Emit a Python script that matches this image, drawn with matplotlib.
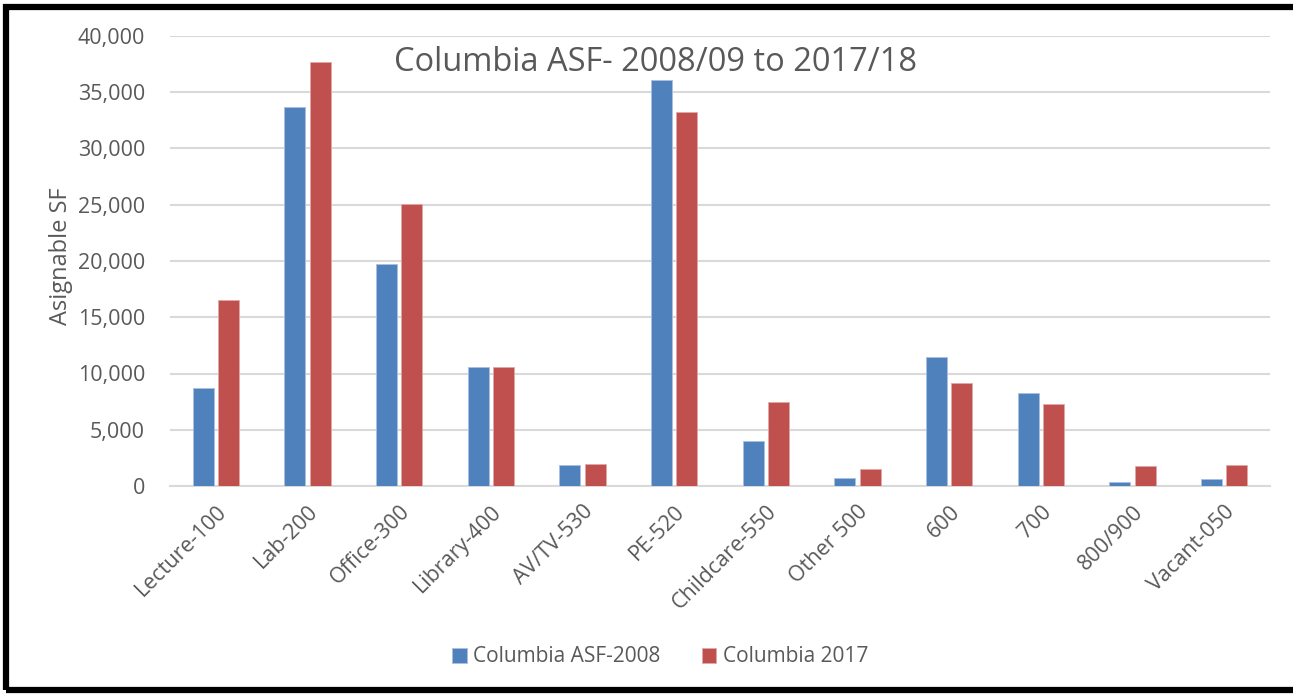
import matplotlib
matplotlib.use("Agg")
import matplotlib.pyplot as plt
import numpy as np
from matplotlib.patches import Rectangle

categories = ["Lecture-100", "Lab-200", "Office-300", "Library-400", "AV/TV-530",
              "PE-520", "Childcare-550", "Other 500", "600", "700", "800/900", "Vacant-050"]
asf_2008 = [8700, 33700, 19700, 10550, 1850, 36100, 4000, 700, 11500, 8250, 350, 650]
asf_2017 = [16500, 37700, 25100, 10550, 1950, 33250, 7450, 1500, 9150, 7300, 1750, 1850]
series_names = ["Columbia ASF-2008", "Columbia 2017"]
yticks = [0, 5000, 10000, 15000, 20000, 25000, 30000, 35000, 40000]
title = "Columbia ASF- 2008/09 to 2017/18"
ylabel = "Asignable SF"

plt.rcParams['font.family'] = ['Open Sans', 'DejaVu Sans']
txt = '#595959'
blue = '#4F81BD'
red = '#C0504D'

fig = plt.figure(figsize=(12.93, 6.94), dpi=100)
ax = fig.add_axes([170/1293, 1-486/694, 1100/1293, 450/694])

x = np.arange(len(categories))
w = 0.229
off = 0.139
ax.bar(x - off, asf_2008, width=w, color=blue, edgecolor='#a9c0e0', linewidth=0.6,
       label=series_names[0], zorder=3)
ax.bar(x + off, asf_2017, width=w, color=red, edgecolor='#e0a9a8', linewidth=0.6,
       label=series_names[1], zorder=3)

ax.set_xlim(-0.5, len(categories) - 0.5)
ax.set_ylim(0, 40000)
ax.set_yticks(yticks)
ax.set_yticklabels([f"{v:,}" for v in yticks])
ax.yaxis.grid(True, color='#d9d9d9', linewidth=1.5, zorder=0)
ax.set_axisbelow(True)
for s in ['top', 'right', 'left']:
    ax.spines[s].set_visible(False)
ax.spines['bottom'].set_color('#d9d9d9')
ax.spines['bottom'].set_linewidth(1.5)
ax.tick_params(axis='y', length=0, pad=18, labelsize=15.5, labelcolor=txt)
ax.tick_params(axis='x', length=0, pad=11, labelsize=15.5, labelcolor=txt)
ax.set_xticks(x)
ax.set_xticklabels(categories, rotation=45, ha='right', va='top', rotation_mode='anchor')

ax.set_ylabel(ylabel, fontsize=17, color=txt)
ax.yaxis.set_label_coords(-0.088, 0.51)

ax.text(0.441, 0.942, title, transform=ax.transAxes, ha='center', va='center',
        fontsize=23.5, color=txt)

leg = fig.legend(loc='center', bbox_to_anchor=(660/1293, 1-657/694), ncol=2, frameon=False,
                 fontsize=15, labelcolor=txt, handlelength=0.7, handleheight=0.7,
                 handletextpad=0.3, columnspacing=2.0)

fig.patches.append(Rectangle((6/1293, 4/694), 1.1, 1 - 11/694, transform=fig.transFigure,
                             fill=False, edgecolor='black', linewidth=4.5, zorder=10))

fig.savefig("out.png", dpi=100)
